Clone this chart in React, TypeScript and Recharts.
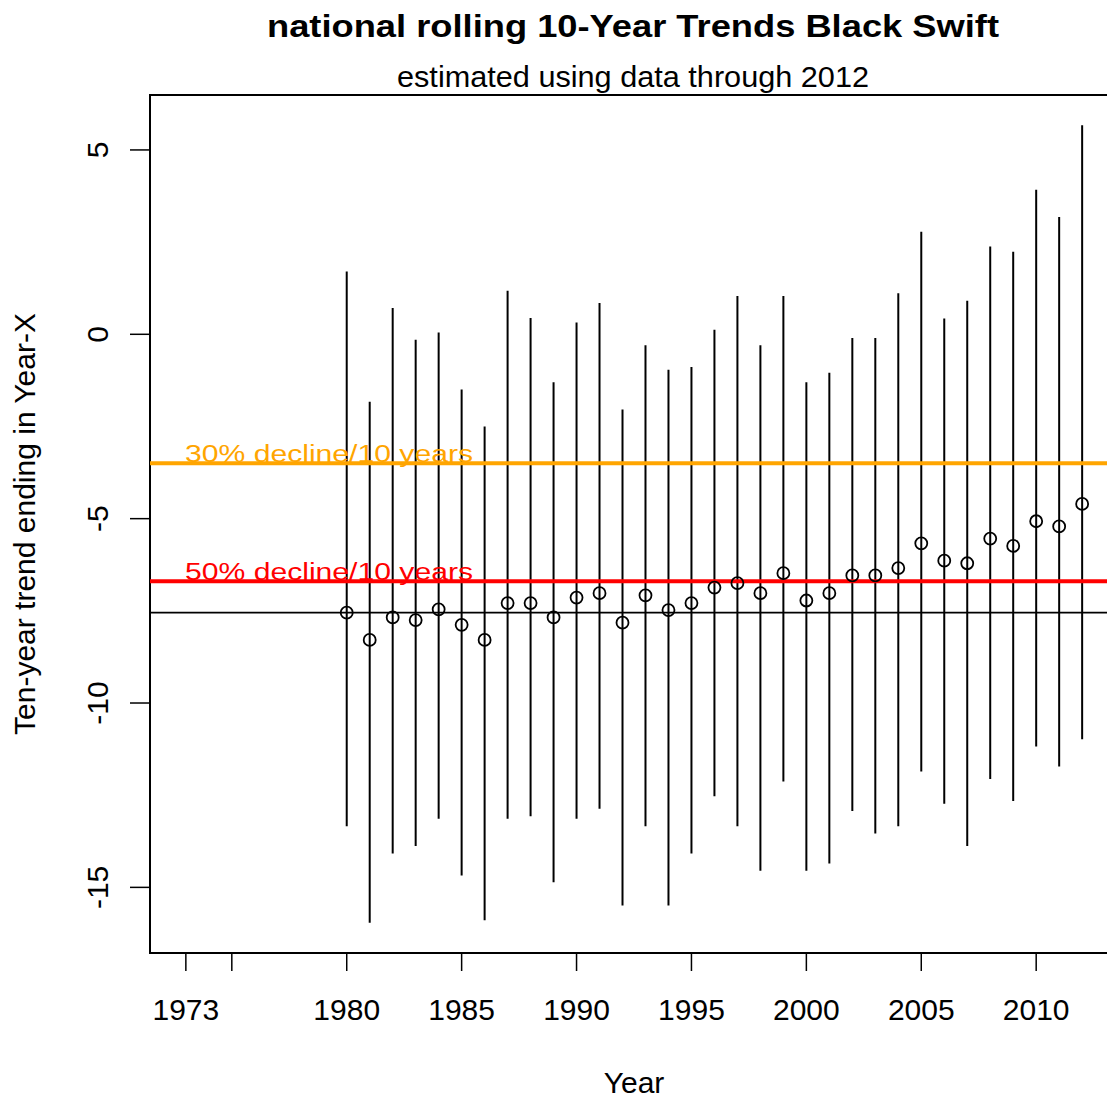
import React from "react";
import {
  ComposedChart,
  Scatter,
  ErrorBar,
  XAxis,
  YAxis,
  ReferenceLine,
  ReferenceArea,
} from "recharts";

const years = [
  1980, 1981, 1982, 1983, 1984, 1985, 1986, 1987, 1988, 1989, 1990, 1991,
  1992, 1993, 1994, 1995, 1996, 1997, 1998, 1999, 2000, 2001, 2002, 2003,
  2004, 2005, 2006, 2007, 2008, 2009, 2010, 2011, 2012,
];

const estimate = [
  -7.55, -8.29, -7.68, -7.75, -7.46, -7.88, -8.29, -7.29, -7.29, -7.68, -7.14,
  -7.02, -7.82, -7.08, -7.48, -7.29, -6.87, -6.75, -7.02, -6.48, -7.22, -7.02,
  -6.54, -6.54, -6.34, -5.67, -6.14, -6.21, -5.54, -5.74, -5.07, -5.21, -4.6,
];

const upper = [
  1.7, -1.83, 0.71, -0.15, 0.05, -1.5, -2.5, 1.18, 0.44, -1.3, 0.32, 0.85,
  -2.04, -0.3, -0.96, -0.89, 0.12, 1.04, -0.3, 1.04, -1.3, -1.04, -0.1, -0.1,
  1.11, 2.78, 0.43, 0.91, 2.38, 2.24, 3.92, 3.18, 5.67,
];

const lower = [
  -13.34, -15.96, -14.08, -13.88, -13.14, -14.68, -15.89, -13.14, -13.07,
  -14.86, -13.14, -12.87, -15.49, -13.34, -15.49, -14.08, -12.53, -13.34,
  -14.55, -12.13, -14.55, -14.35, -12.93, -13.54, -13.34, -11.86, -12.73,
  -13.88, -12.06, -12.66, -11.18, -11.72, -10.98,
];

const xTicks = [1973, 1975, 1980, 1985, 1990, 1995, 2000, 2005, 2010];
const yTicks = [-15, -10, -5, 0, 5];
const xDomain = [1971.44, 2013.56];
const yDomain = [-16.78, 6.49];

const decline30 = -3.5;
const decline50 = -6.7;
const baseline = -7.55;

const FONT = '"Liberation Sans", Arial, sans-serif';

const data = years.map((year, i) => ({
  year,
  est: estimate[i],
  err: [estimate[i] - lower[i], upper[i] - estimate[i]],
}));

const XTick = ({ x, y, payload }: any) => {
  if (payload.value === 1975) return null;
  return (
    <text
      x={x}
      y={y + 49}
      textAnchor="middle"
      fontSize={30}
      fontFamily={FONT}
      fill="#000"
    >
      {payload.value}
    </text>
  );
};

const YTick = ({ y, payload }: any) => (
  <text
    x={108}
    y={y}
    transform={`rotate(-90, 108, ${y})`}
    textAnchor="middle"
    fontSize={30}
    fontFamily={FONT}
    fill="#000"
  >
    {payload.value}
  </text>
);

const Ring = ({ cx, cy }: any) => (
  <circle cx={cx} cy={cy} r={6} fill="none" stroke="#000" strokeWidth={1.8} />
);

const lineLabel = (text: string, color: string) => ({ viewBox }: any) => (
  <text
    x={viewBox.x + 35}
    y={viewBox.y - 1}
    fontSize={23}
    fontFamily={FONT}
    fill={color}
    textLength={288}
    lengthAdjust="spacingAndGlyphs"
  >
    {text}
  </text>
);

export default function App() {
  return (
    <div
      style={{
        position: "absolute",
        left: 0,
        top: 0,
        width: 1107,
        height: 1098,
        overflow: "hidden",
        background: "#fff",
      }}
    >
      <ComposedChart
        width={1130}
        height={1098}
        data={data}
        margin={{ top: 95, right: 12, bottom: 0, left: 0 }}
      >
        <XAxis
          type="number"
          dataKey="year"
          domain={xDomain}
          ticks={xTicks}
          allowDataOverflow
          height={145}
          tickSize={18}
          tickMargin={0}
          axisLine={false}
          tickLine={{ stroke: "#000", strokeWidth: 1.5 }}
          tick={<XTick />}
          label={{
            value: "Year",
            content: ({ viewBox }: any) => (
              <text
                x={viewBox.x + viewBox.width / 2}
                y={1093}
                textAnchor="middle"
                fontSize={30}
                fontFamily={FONT}
                fill="#000"
              >
                Year
              </text>
            ),
          }}
        />
        <YAxis
          type="number"
          domain={yDomain}
          ticks={yTicks}
          allowDataOverflow
          width={150}
          tickSize={20}
          axisLine={false}
          tickLine={{ stroke: "#000", strokeWidth: 1.5 }}
          tick={<YTick />}
          label={{
            value: "Ten-year trend ending in Year-X",
            content: ({ viewBox }: any) => {
              const cy = viewBox.y + viewBox.height / 2;
              return (
                <text
                  x={35}
                  y={cy}
                  transform={`rotate(-90, 35, ${cy})`}
                  textAnchor="middle"
                  fontSize={30}
                  fontFamily={FONT}
                  fill="#000"
                >
                  Ten-year trend ending in Year-X
                </text>
              );
            },
          }}
        />
        <ReferenceArea
          x1={xDomain[0]}
          x2={xDomain[1]}
          y1={yDomain[0]}
          y2={yDomain[1]}
          fill="none"
          stroke="#000"
          strokeWidth={2}
        />
        <Scatter dataKey="est" shape={<Ring />} isAnimationActive={false}>
          <ErrorBar
            dataKey="err"
            direction="y"
            width={0}
            stroke="#000"
            strokeWidth={2}
            isAnimationActive={false}
          />
        </Scatter>
        <ReferenceLine
          y={decline30}
          stroke="#FFA500"
          strokeWidth={4}
          label={lineLabel("30% decline/10 years", "#FFA500")}
        />
        <ReferenceLine
          y={decline50}
          stroke="#FF0000"
          strokeWidth={4}
          label={lineLabel("50% decline/10 years", "#FF0000")}
        />
        <ReferenceLine y={baseline} stroke="#000" strokeWidth={1.8} />
      </ComposedChart>
      <svg
        width={1107}
        height={100}
        style={{ position: "absolute", left: 0, top: 0, pointerEvents: "none" }}
      >
        <text
          x={633}
          y={37}
          textAnchor="middle"
          fontSize={31}
          fontWeight="bold"
          fontFamily={FONT}
          fill="#000"
          textLength={732}
          lengthAdjust="spacingAndGlyphs"
        >
          national rolling 10-Year Trends Black Swift
        </text>
        <text
          x={633}
          y={87}
          textAnchor="middle"
          fontSize={29}
          fontFamily={FONT}
          fill="#000"
          textLength={472}
          lengthAdjust="spacingAndGlyphs"
        >
          estimated using data through 2012
        </text>
      </svg>
    </div>
  );
}
